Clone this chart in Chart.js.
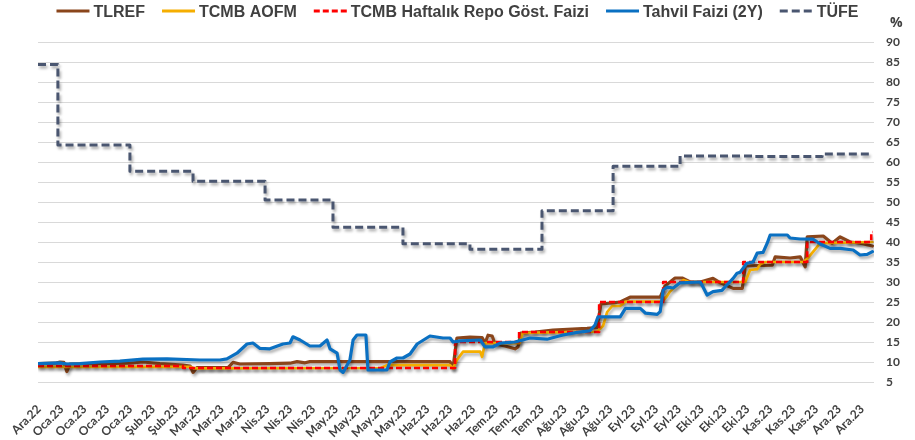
<!DOCTYPE html>
<html>
<head>
<meta charset="utf-8">
<script src="https://cdn.jsdelivr.net/npm/chart.js@4.4.1/dist/chart.umd.min.js"></script>
<style>
  html, body { margin: 0; padding: 0; background: #ffffff; }
  canvas { display: block; }
</style>
</head>
<body>
<canvas id="chart" width="915" height="440"></canvas>
<script>
// x values are calendar days counted from 22 Dec 2022; y values are percent.
const tickDays = [0, 10, 20, 30, 40, 50, 60, 70, 80, 90, 100, 110, 120, 130, 140, 150, 160, 170, 180,
  190, 200, 210, 220, 230, 240, 250, 260, 270, 280, 290, 300, 310, 320, 330, 340, 350, 360];
const tickLabels = ["Ara.22", "Oca.23", "Oca.23", "Oca.23", "Oca.23", "Şub.23", "Şub.23", "Mar.23", "Mar.23",
  "Mar.23", "Nis.23", "Nis.23", "Nis.23", "May.23", "May.23", "May.23", "May.23", "Haz.23", "Haz.23",
  "Haz.23", "Tem.23", "Tem.23", "Tem.23", "Ağu.23", "Ağu.23", "Ağu.23", "Eyl.23", "Eyl.23", "Eyl.23",
  "Eki.23", "Eki.23", "Eki.23", "Kas.23", "Kas.23", "Kas.23", "Ara.23", "Ara.23"];

const tlref = [[-0.4, 9.6], [7, 9.7], [9.2, 10.0], [10.9, 9.9], [12.2, 7.6], [13.6, 9.5], [26.7, 9.6],
  [39.8, 9.7], [45.5, 10.0], [52.9, 9.6], [63, 9.2], [66.1, 9.0], [67.4, 7.4], [69.1, 8.6], [82.7, 8.6],
  [84.9, 9.9], [87.9, 9.5], [101, 9.6], [109.8, 9.7], [112.9, 10.1], [116.4, 9.8], [118.5, 10.1],
  [178.5, 10.1], [179.8, 10.1], [181.1, 8.6], [182.8, 16.0], [188.5, 16.2], [193.8, 16.1], [195.1, 14.7],
  [196.4, 16.7], [198.2, 16.5], [199.5, 14.5], [203.8, 14.0], [208.2, 13.3], [209.5, 13.8], [210.8, 17.2],
  [217, 17.5], [224.8, 18.0], [239.7, 18.4], [244.1, 18.6], [245.8, 24.5], [250.7, 24.8], [254.2, 25.0],
  [258.5, 26.2], [271.7, 26.2], [273.8, 29.0], [278.2, 31.0], [281.3, 31.0], [284.8, 30.0], [289.2, 30.0],
  [294.8, 30.9], [298, 29.8], [303.6, 28.4], [307.6, 28.4], [308.9, 34.0], [320.7, 34.2], [322, 36.3],
  [328.5, 36.0], [332.9, 36.3], [335.1, 33.8], [336, 41.3], [343, 41.5], [346.9, 39.7], [350.4, 41.3],
  [354.8, 40.0], [359.1, 39.7], [364.5, 39.0]];

const aofm = [[-0.4, 8.8], [66.1, 8.8], [68, 8.4], [149.5, 8.5], [152.2, 9.2], [179.8, 9.2], [181.1, 8.4],
  [182.8, 10.5], [185.5, 12.6], [193, 12.6], [193.8, 11.3], [195.1, 14.7], [210.2, 14.7], [211.6, 17.3],
  [244.1, 17.6], [246.7, 19.0], [248.5, 22.5], [250.7, 24.0], [254.2, 24.0], [256.5, 25.1], [272.6, 25.1],
  [274.7, 26.5], [276, 27.6], [279.1, 29.3], [281.8, 30.5], [284.8, 30.0], [308.9, 30.0], [311, 33.0],
  [314.1, 33.2], [315.4, 34.4], [317.6, 35.0], [334.2, 35.0], [336, 35.8], [338.6, 37.6], [341.7, 39.7],
  [364.5, 40.0]];

// policy rate: each pair is the day a new rate takes effect
const repo = [[-0.4, 9.0], [63, 8.5], [182, 15.0], [210, 17.5], [245, 25.0], [273, 30.0], [308, 35.0],
  [336, 40.0], [364, 42.5], [364.5, 42.5]];

const tahvil = [[-0.4, 9.6], [9.2, 9.8], [12.2, 9.5], [17.9, 9.6], [26.7, 10.0], [35.4, 10.2], [45.5, 10.7],
  [56, 10.8], [70.4, 10.5], [79.2, 10.5], [82.2, 10.8], [86.6, 12.2], [91, 14.5], [93.6, 14.75],
  [96.7, 13.4], [101, 13.3], [106.7, 14.5], [109.8, 14.75], [111.1, 16.3], [114.2, 15.5], [118.5, 14.0],
  [122.9, 14.0], [126, 15.5], [127.3, 13.3], [130.4, 12.2], [131.7, 8.0], [133, 7.4], [136, 10.5],
  [137.4, 15.5], [139.1, 16.75], [143, 16.75], [143.9, 8.0], [152.2, 8.0], [153.5, 10.0], [156.6, 11.0],
  [159.2, 11.0], [162.3, 12.0], [165.4, 14.5], [171, 16.5], [176.7, 16.0], [179.8, 16.0], [181.1, 15.0],
  [184.2, 15.3], [193, 15.5], [195.1, 13.8], [198.6, 13.8], [201.7, 14.7], [208.2, 15.0], [214.8, 16.0],
  [222.2, 15.7], [229.2, 16.75], [235.3, 17.4], [241, 17.8], [243.2, 19.25], [244.5, 21.3], [254.2, 21.3],
  [256.5, 23.4], [263, 23.4], [265.3, 22.2], [270.4, 21.9], [271.7, 22.6], [273, 28.0], [274.7, 28.7],
  [277.4, 28.5], [280.4, 29.8], [289.2, 30.0], [290.5, 28.7], [292.2, 26.75], [294.8, 27.6], [298.7, 27.9],
  [300.9, 29.3], [303.6, 30.9], [305.3, 32.2], [306.6, 32.4], [309.6, 34.7], [312.3, 35.0], [314.1, 37.2],
  [316.7, 37.4], [318.5, 39.7], [319.8, 41.75], [327.3, 41.75], [328.5, 41.0], [332.9, 40.75],
  [338.6, 40.7], [341.7, 39.5], [346, 38.4], [350.4, 38.4], [356.1, 38.0], [359.1, 36.75], [362.2, 36.9],
  [364.5, 37.6]];

// annual CPI: each pair is the day a new monthly print takes effect
const tufe = [[-0.4, 84.39], [8.3, 64.27], [39.8, 57.68], [67.4, 55.18], [98.9, 50.51], [128.6, 43.68],
  [159.2, 39.59], [188.5, 38.21], [220, 47.83], [251.1, 58.94], [280.4, 61.53], [312.3, 61.36],
  [342.5, 61.98], [364.5, 61.98]];

const TEXT = '#404040';

// soft drop shadow under every line
const lineShadow = {
  id: 'lineShadow',
  beforeDatasetDraw(chart) {
    const c = chart.ctx;
    c.save();
    c.shadowColor = 'rgba(0,0,0,0.33)';
    c.shadowBlur = 3;
    c.shadowOffsetX = 1.5;
    c.shadowOffsetY = 2.5;
  },
  afterDatasetDraw(chart) { chart.ctx.restore(); }
};

// legend row across the top plus the unit label above the right axis
const topLegend = {
  id: 'topLegend',
  afterDraw(chart) {
    const c = chart.ctx;
    const sets = chart.data.datasets;
    const sample = 33, gap = 4, spacing = 17, y = 11;
    c.save();
    c.font = 'bold 16px "Liberation Sans", Arial, sans-serif';
    const widths = sets.map(d => c.measureText(d.label).width);
    const total = widths.reduce((a, w) => a + sample + gap + w, 0) + spacing * (sets.length - 1);
    let x = (chart.width - total) / 2;
    sets.forEach((d, i) => {
      c.beginPath();
      c.strokeStyle = d.borderColor;
      c.lineWidth = 3;
      c.setLineDash(d.borderDash || []);
      c.moveTo(x, y);
      c.lineTo(x + sample, y);
      c.stroke();
      c.setLineDash([]);
      c.fillStyle = TEXT;
      c.textBaseline = 'alphabetic';
      c.textAlign = 'left';
      c.fillText(d.label, x + sample + gap, y + 6);
      x += sample + gap + widths[i] + spacing;
    });
    c.font = 'bold 14px "Open Sans", sans-serif';
    c.fillText('%', 890, 27);
    c.restore();
  }
};

function series(label, data, color, width, dash, order, stepped) {
  return {
    label, data, order,
    borderColor: color,
    backgroundColor: color,
    borderWidth: width,
    borderDash: dash,
    stepped: stepped || false,
    tension: 0,
    pointRadius: 0,
    borderJoinStyle: 'round',
    borderCapStyle: dash.length ? 'butt' : 'round',
    fill: false
  };
}

new Chart(document.getElementById('chart'), {
  type: 'line',
  data: {
    datasets: [
      series('TLREF', tlref, '#8a451b', 3.2, [], 5),
      series('TCMB AOFM', aofm, '#f5ae00', 2.7, [], 4),
      series('TCMB Haftalık Repo Göst. Faizi', repo, '#ff0000', 2.6, [6, 3], 3, true),
      series('Tahvil Faizi (2Y)', tahvil, '#0a70c2', 3.2, [], 2),
      series('TÜFE', tufe, '#4a5670', 3, [8, 4], 1, true)
    ]
  },
  options: {
    responsive: false,
    animation: false,
    layout: { padding: { top: 42, left: 38, right: 0, bottom: 0 } },
    plugins: { legend: { display: false }, tooltip: { enabled: false } },
    scales: {
      x: {
        type: 'linear',
        min: -0.4,
        max: 365.2,
        afterBuildTicks: s => { s.ticks = tickDays.map(v => ({ value: v })); },
        afterFit: s => { s.height = 58; },
        grid: { display: false },
        border: { display: false },
        ticks: {
          autoSkip: false,
          maxRotation: 45,
          minRotation: 45,
          padding: 12,
          color: TEXT,
          font: { family: 'Lato', weight: 'bold', size: 12 },
          callback: (v, i) => tickLabels[i]
        }
      },
      y: {
        position: 'right',
        min: 5,
        max: 90,
        afterFit: s => { s.width = 41; },
        grid: { color: '#d9d9d9', lineWidth: 1, drawTicks: false },
        border: { display: false },
        ticks: {
          stepSize: 5,
          padding: 12,
          color: TEXT,
          font: { family: 'Lato', weight: 'bold', size: 12 }
        }
      }
    }
  },
  plugins: [lineShadow, topLegend]
});
</script>
</body>
</html>
